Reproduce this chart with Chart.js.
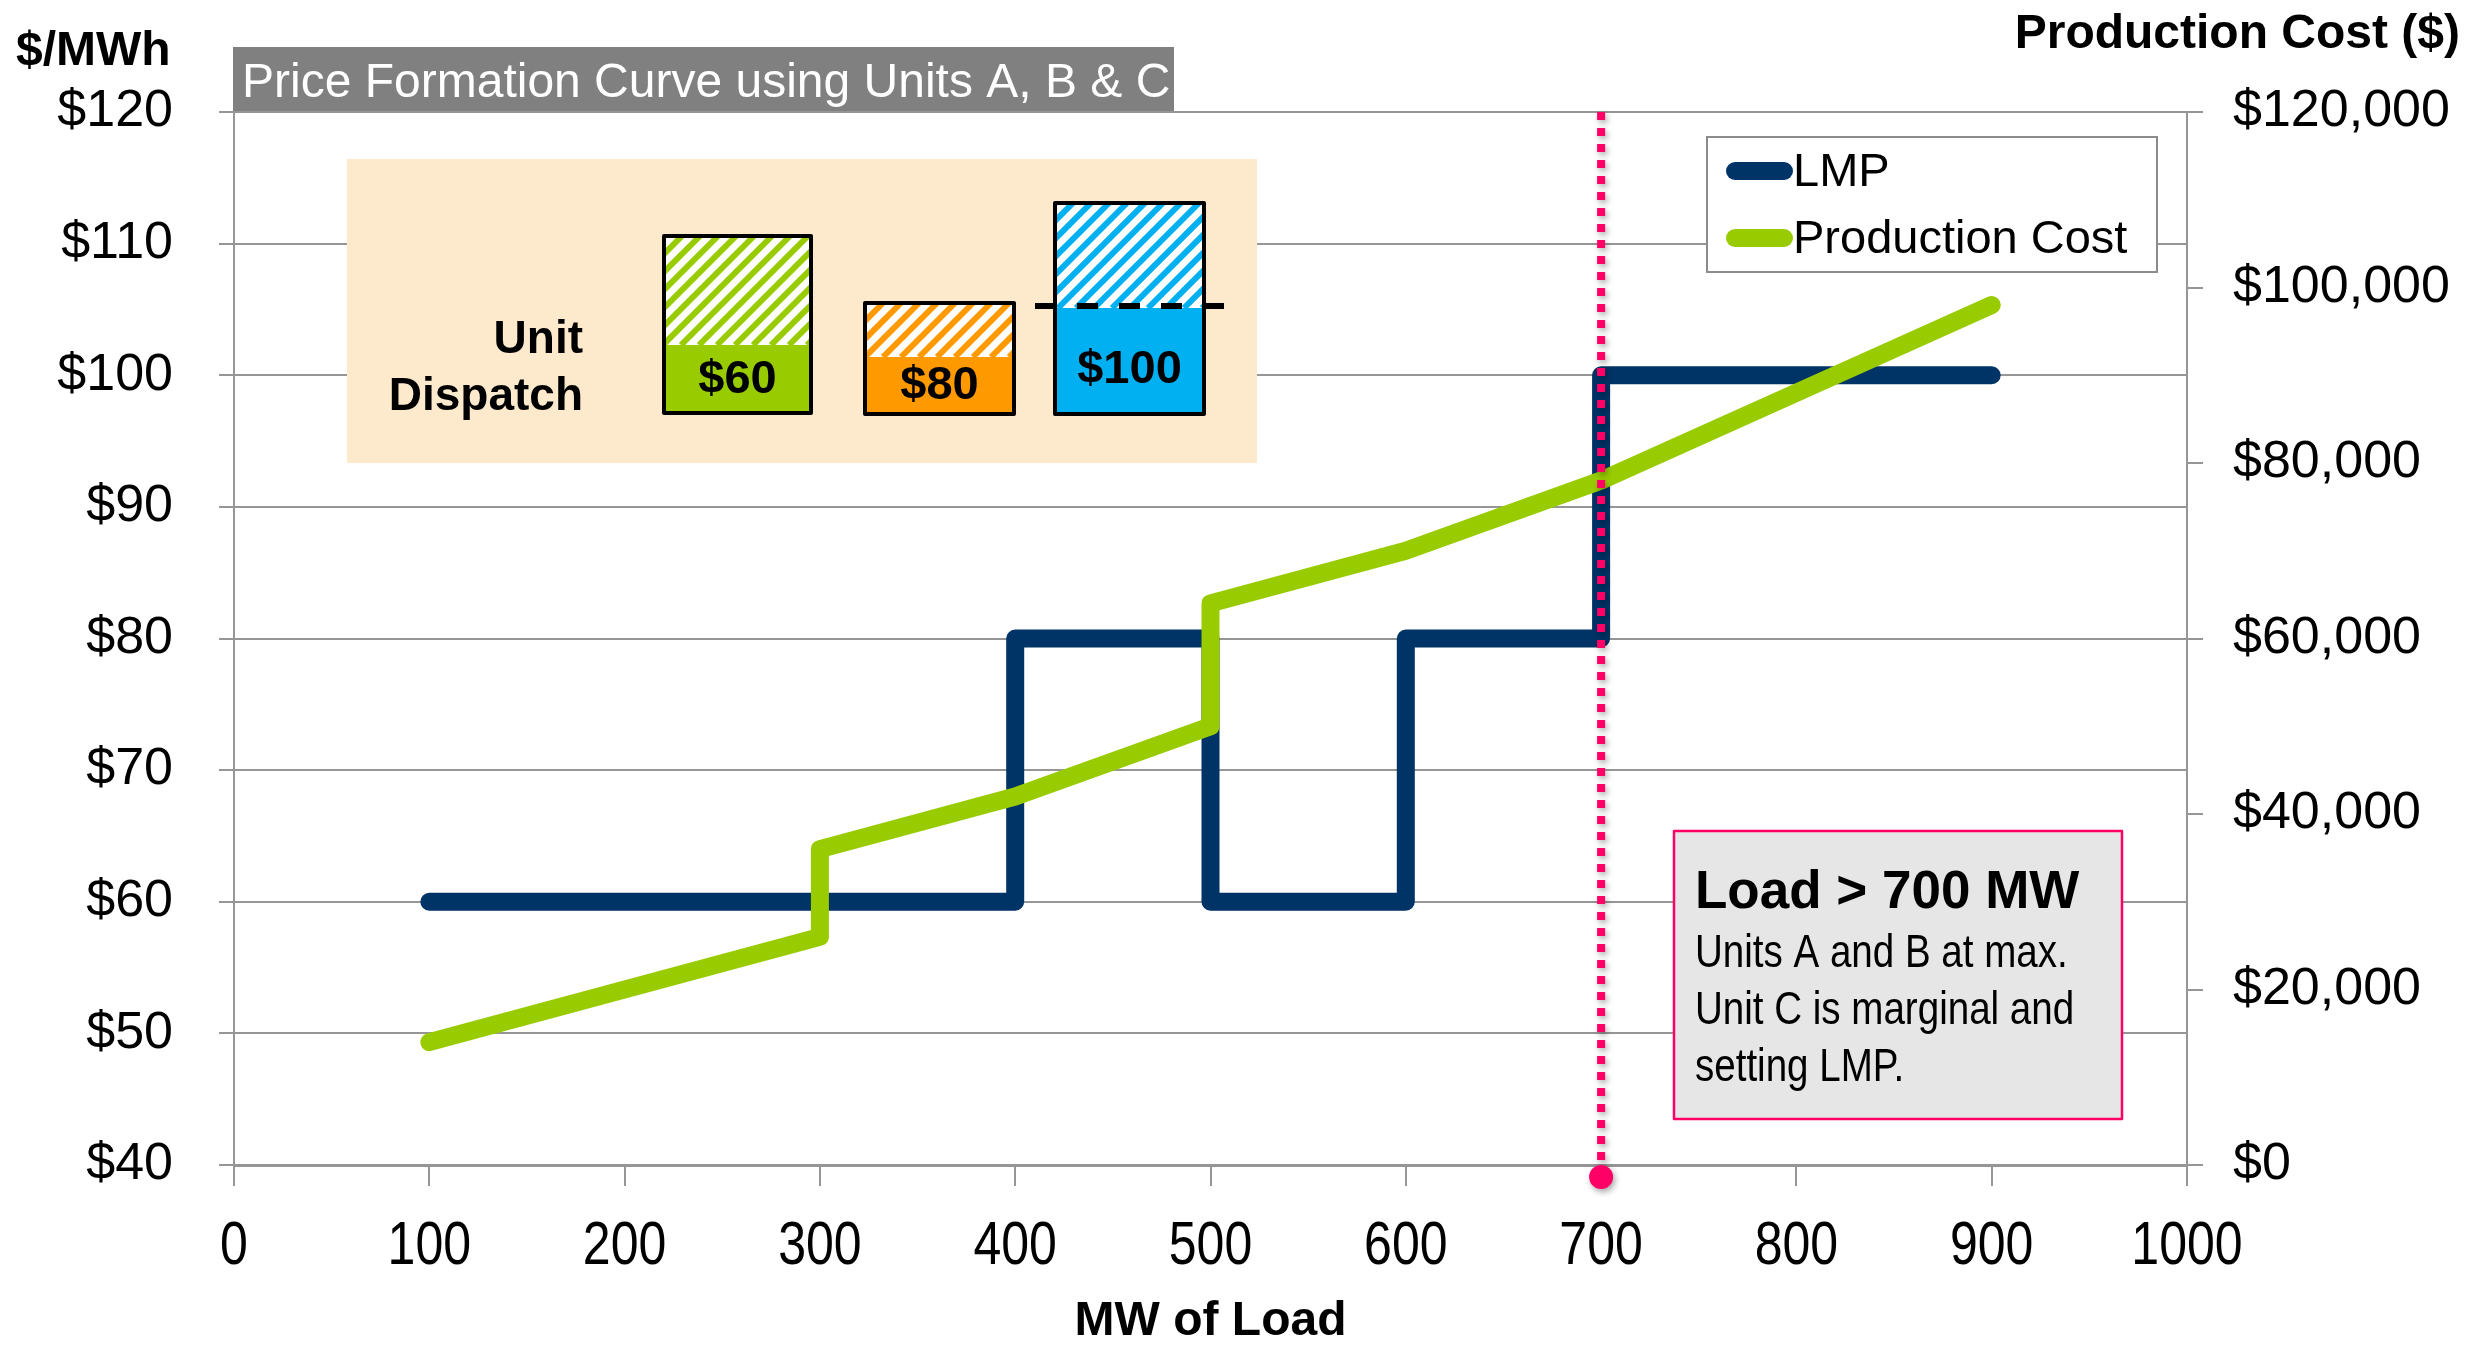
<!DOCTYPE html>
<html>
<head>
<meta charset="utf-8">
<script src="https://cdn.jsdelivr.net/npm/chart.js@4.4.1/dist/chart.umd.min.js"></script>
<style>
  html, body { margin: 0; padding: 0; background: #ffffff; }
  #c { display: block; }
</style>
</head>
<body>
<canvas id="c" width="2483" height="1355" style="width:2483px;height:1355px"></canvas>
<script>
// ---- Data ----
const lmpLoadMW   = [100, 400, 400, 500, 500, 600, 600, 700, 700, 900];
const lmpPrice    = [60, 60, 80, 80, 60, 60, 80, 80, 100, 100];
const costLoadMW  = [100, 300, 300, 400, 500, 500, 600, 700, 900];
const costDollars = [14000, 26000, 36000, 42000, 50000, 64000, 70000, 78000, 98000];
const seriesNames = ['LMP', 'Production Cost'];
const unitPrices  = ['$60', '$80', '$100'];
const marginalLoad = 700;
const chartTitle = 'Price Formation Curve using Units A, B & C';
const noteTitle = 'Load > 700 MW';
const noteLines = ['Units A and B at max.', 'Unit C is marginal and', 'setting LMP.'];

const ARIAL = "'Liberation Sans', Arial, sans-serif";
const NAVY = '#003366', LIME = '#99CC00', PINK = '#FF0066', GRID = '#969696';

// Arial Narrow is not installed: draw Liberation Sans horizontally condensed.
function narrowText(ctx, text, x, y, size, align, weight) {
  ctx.save();
  ctx.font = (weight ? weight + ' ' : '') + size + 'px ' + ARIAL;
  ctx.translate(x, y); ctx.scale(0.82, 1);
  ctx.textAlign = align; ctx.textBaseline = 'alphabetic';
  ctx.fillText(text, 0, 0);
  ctx.restore();
}

function hatchRect(ctx, x, y, w, h, color) {
  ctx.save();
  ctx.beginPath(); ctx.rect(x, y, w, h); ctx.clip();
  ctx.fillStyle = '#ffffff'; ctx.fillRect(x, y, w, h);
  ctx.strokeStyle = color; ctx.lineWidth = 6;
  ctx.beginPath();
  for (let k = -h; k < w + h; k += 18) {
    ctx.moveTo(x + k, y + h); ctx.lineTo(x + k + h, y);
  }
  ctx.stroke();
  ctx.restore();
}

function unitBox(ctx, x, y, w, h, splitY, color, label, labelY) {
  hatchRect(ctx, x, y, w, splitY - y, color);
  ctx.fillStyle = color; ctx.fillRect(x, splitY, w, y + h - splitY);
  ctx.lineWidth = 4; ctx.lineJoin = 'round'; ctx.strokeStyle = '#000';
  ctx.strokeRect(x, y, w, h);
  ctx.fillStyle = '#000'; ctx.font = 'bold 47px ' + ARIAL;
  ctx.textAlign = 'center'; ctx.textBaseline = 'middle';
  ctx.fillText(label, x + w / 2, labelY);
}

const decor = {
  id: 'decor',
  beforeDatasetsDraw(chart) {
    const ctx = chart.ctx;
    ctx.save();
    // Unit dispatch panel
    ctx.fillStyle = '#FDE9CC';
    ctx.fillRect(347, 159, 910, 304);
    ctx.fillStyle = '#000'; ctx.font = 'bold 46px ' + ARIAL;
    ctx.textAlign = 'right'; ctx.textBaseline = 'alphabetic';
    ctx.fillText('Unit', 583, 353);
    ctx.fillText('Dispatch', 583, 410);
    unitBox(ctx, 664, 236, 147, 177, 345, LIME, unitPrices[0], 380);
    unitBox(ctx, 865, 303, 149, 111, 357, '#FF9900', unitPrices[1], 386);
    unitBox(ctx, 1055, 203, 149, 211, 308, '#00B0F0', unitPrices[2], 370);
    ctx.strokeStyle = '#000'; ctx.lineWidth = 6; ctx.setLineDash([21, 21]);
    ctx.beginPath(); ctx.moveTo(1035, 306); ctx.lineTo(1230, 306); ctx.stroke();
    ctx.setLineDash([]);
    // Note box
    ctx.fillStyle = '#E6E6E6'; ctx.fillRect(1674, 831, 448, 288);
    ctx.strokeStyle = PINK; ctx.lineWidth = 2.5; ctx.strokeRect(1674, 831, 448, 288);
    ctx.fillStyle = '#000'; ctx.textAlign = 'left'; ctx.textBaseline = 'alphabetic';
    ctx.font = 'bold 53px ' + ARIAL;
    ctx.fillText(noteTitle, 1695, 908);
    noteLines.forEach((t, i) => narrowText(ctx, t, 1695, 967 + i * 57, 47, 'left'));
    ctx.restore();
  },
  afterDatasetsDraw(chart) {
    const ctx = chart.ctx, area = chart.chartArea;
    const xs = chart.scales.x;
    const px = xs.getPixelForValue(marginalLoad);
    ctx.save();
    ctx.shadowColor = 'rgba(0,0,0,0.35)'; ctx.shadowBlur = 6; ctx.shadowOffsetX = 2; ctx.shadowOffsetY = 3;
    ctx.strokeStyle = PINK; ctx.lineWidth = 8; ctx.setLineDash([8, 8]);
    ctx.beginPath(); ctx.moveTo(px, area.top); ctx.lineTo(px, area.bottom + 4); ctx.stroke();
    ctx.setLineDash([]);
    ctx.fillStyle = PINK;
    ctx.beginPath(); ctx.arc(px, area.bottom + 12, 12, 0, Math.PI * 2); ctx.fill();
    ctx.restore();

    // Legend
    ctx.save();
    ctx.fillStyle = '#fff'; ctx.fillRect(1707, 137, 450, 135);
    ctx.strokeStyle = '#8C8C8C'; ctx.lineWidth = 2; ctx.strokeRect(1707, 137, 450, 135);
    const rows = [171, 238];
    [0, 1].forEach((di, i) => {
      const ds = chart.data.datasets[di];
      ctx.strokeStyle = ds.borderColor; ctx.lineWidth = 18; ctx.lineCap = 'round';
      ctx.beginPath(); ctx.moveTo(1735, rows[i]); ctx.lineTo(1784, rows[i]); ctx.stroke();
      ctx.fillStyle = '#000'; ctx.font = '47px ' + ARIAL;
      ctx.textAlign = 'left'; ctx.textBaseline = 'middle';
      ctx.fillText(ds.label, 1793, rows[i] + 2);
    });
    ctx.restore();
  },
  afterDraw(chart) {
    const ctx = chart.ctx;
    ctx.save();
    // x tick labels (condensed), positioned by the x scale
    const xs = chart.scales.x;
    ctx.fillStyle = '#000';
    xs.ticks.forEach(t => narrowText(ctx, String(t.value), xs.getPixelForValue(t.value), 1264, 61, 'center'));
    // Title box and axis captions
    ctx.fillStyle = '#808080'; ctx.fillRect(233, 47, 941, 64);
    ctx.fillStyle = '#fff'; ctx.font = '48px ' + ARIAL;
    ctx.textAlign = 'left'; ctx.textBaseline = 'alphabetic';
    ctx.fillText(chartTitle, 242, 97);
    ctx.fillStyle = '#000'; ctx.font = 'bold 48px ' + ARIAL;
    ctx.fillText('$/MWh', 16, 65);
    ctx.textAlign = 'right';
    ctx.fillText('Production Cost ($)', 2460, 48);
    ctx.restore();
  }
};

new Chart(document.getElementById('c'), {
  type: 'line',
  data: {
    datasets: [
      { label: seriesNames[0], data: lmpLoadMW.map((x, i) => ({ x, y: lmpPrice[i] })),
        yAxisID: 'y', borderColor: NAVY, backgroundColor: NAVY, borderWidth: 18,
        borderJoinStyle: 'round', borderCapStyle: 'round', pointRadius: 0, tension: 0, fill: false, order: 2 },
      { label: seriesNames[1], data: costLoadMW.map((x, i) => ({ x, y: costDollars[i] })),
        yAxisID: 'y2', borderColor: LIME, backgroundColor: LIME, borderWidth: 18,
        borderJoinStyle: 'round', borderCapStyle: 'round', pointRadius: 0, tension: 0, fill: false, order: 1 }
    ]
  },
  options: {
    responsive: false, animation: false, devicePixelRatio: 1,
    layout: { padding: { top: 112, left: 0, right: 0, bottom: 0 } },
    plugins: { legend: { display: false }, tooltip: { enabled: false }, title: { display: false } },
    scales: {
      x: {
        type: 'linear', min: 0, max: 1000,
        ticks: { stepSize: 100, color: 'rgba(0,0,0,0)', font: { family: ARIAL, size: 61 }, padding: 18, maxRotation: 0, autoSkip: false,
                 callback: v => String(v) },
        grid: { drawOnChartArea: false, drawTicks: true, tickLength: 21, color: GRID, lineWidth: 2 },
        border: { color: GRID, width: 3 },
        title: { display: true, text: 'MW of Load', color: '#000', font: { family: ARIAL, size: 48, weight: 'bold' }, padding: { top: 0, bottom: 4 } },
        afterFit(s) { s.height = 190; }
      },
      y: {
        position: 'left', min: 40, max: 120,
        ticks: { stepSize: 10, color: '#000', font: { family: ARIAL, size: 52 }, padding: 46, callback: v => '$' + v },
        grid: { color: GRID, lineWidth: 2, tickLength: 15 },
        border: { color: GRID, width: 2 },
        afterFit(s) { s.width = 234; }
      },
      y2: {
        position: 'right', min: 0, max: 120000,
        ticks: { stepSize: 20000, color: '#000', font: { family: ARIAL, size: 52 }, padding: 30, callback: v => '$' + v.toLocaleString('en-US') },
        grid: { drawOnChartArea: false, tickLength: 16, color: GRID, lineWidth: 2 },
        border: { color: GRID, width: 2 },
        afterFit(s) { s.width = 296; }
      }
    }
  },
  plugins: [decor]
});
</script>
</body>
</html>
